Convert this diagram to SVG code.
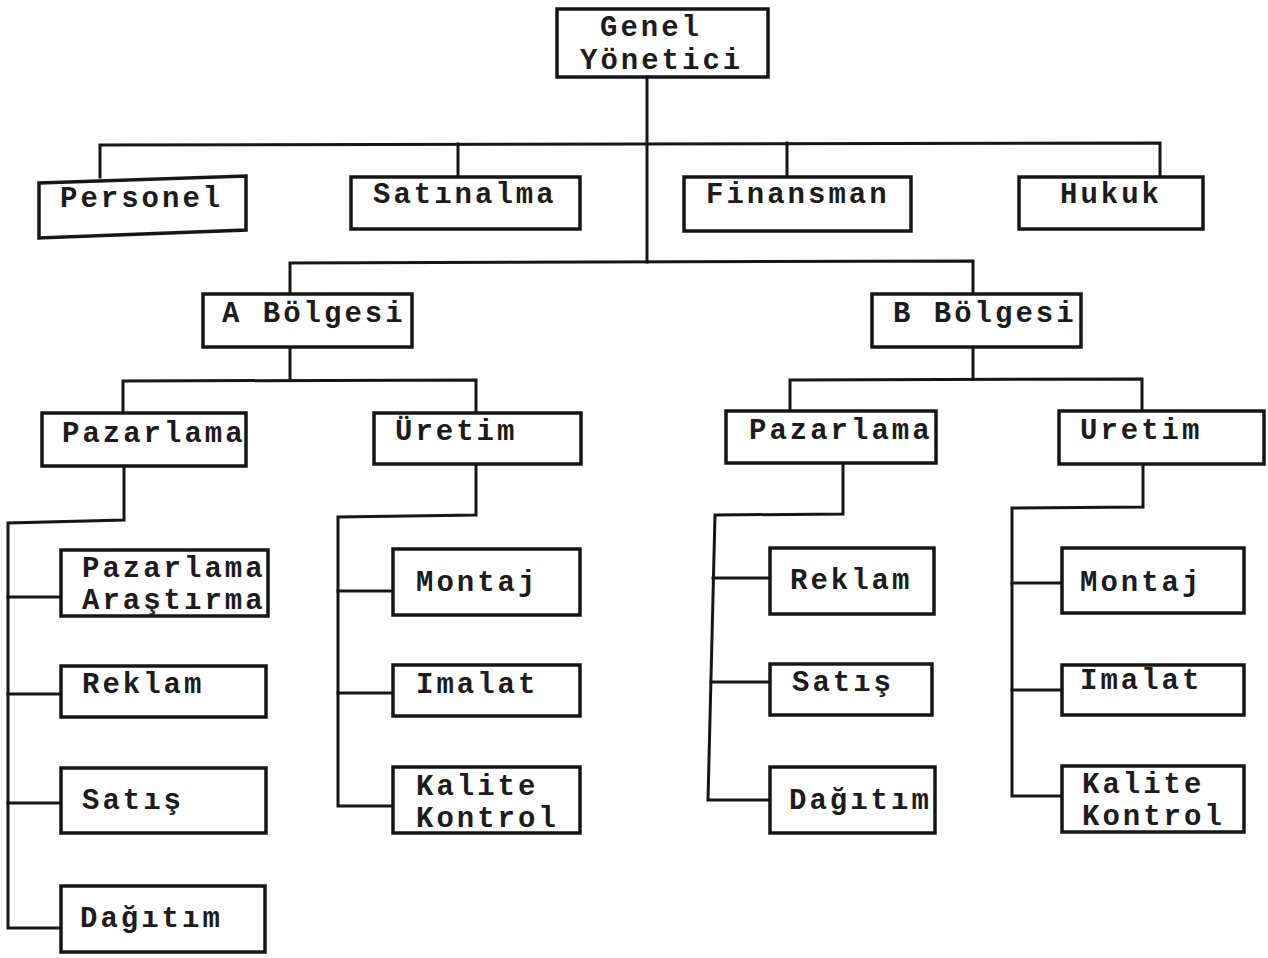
<svg xmlns="http://www.w3.org/2000/svg" width="1268" height="958" viewBox="0 0 1268 958">
  <style>
    .box { fill: none; stroke: #161616; stroke-width: 3.5; stroke-linejoin: miter; }
    .ln { fill: none; stroke: #161616; stroke-width: 3; stroke-linecap: square; }
    text { font-family: "Liberation Mono", "DejaVu Sans Mono", monospace; font-size: 29px; font-weight: bold; fill: #1c1c1c; letter-spacing: 3px; }
  </style>
  <rect width="1268" height="958" fill="#ffffff"/>

  <!-- connectors -->
  <g id="connectors">
    <!-- top level -->
    <path class="ln" d="M647 77 V262"/>
    <path class="ln" d="M100 177 V145 L1160 143 V176"/>
    <path class="ln" d="M458 144 V176"/>
    <path class="ln" d="M787 143 V176"/>
    <!-- regions -->
    <path class="ln" d="M290 293 V263 L973 261 V293"/>
    <!-- A region departments -->
    <path class="ln" d="M290 348 V380"/>
    <path class="ln" d="M123 412 V381 L476 380 V412"/>
    <!-- B region departments -->
    <path class="ln" d="M973 348 V379"/>
    <path class="ln" d="M790 410 V380 L1142 379 V410"/>
    <!-- A Pazarlama units -->
    <path class="ln" d="M124 467 V520 L8 523 V928 H60"/>
    <path class="ln" d="M8 597 H60"/>
    <path class="ln" d="M8 694 H60"/>
    <path class="ln" d="M8 803 H60"/>
    <!-- A Üretim units -->
    <path class="ln" d="M476 465 V515 L338 517 V806 H392"/>
    <path class="ln" d="M338 591 H392"/>
    <path class="ln" d="M338 693 H392"/>
    <!-- B Pazarlama units -->
    <path class="ln" d="M843 464 V514 L715 515 L708 800 H769"/>
    <path class="ln" d="M713 578 H769"/>
    <path class="ln" d="M711 682 H769"/>
    <!-- B Uretim units -->
    <path class="ln" d="M1143 465 V507 L1012 508 V796 H1061"/>
    <path class="ln" d="M1012 583 H1061"/>
    <path class="ln" d="M1012 690 H1061"/>
  </g>

  <g id="genel-yonetici">
    <rect class="box" x="557" y="9" width="211" height="68"/>
    <text x="600" y="36">Genel</text>
    <text x="580" y="69">Yönetici</text>
  </g>

  <g id="personel">
    <path class="box" d="M39 183 L246 176 V230 L39 238 Z"/>
    <text x="60" y="207">Personel</text>
  </g>
  <g id="satinalma">
    <rect class="box" x="351" y="177" width="229" height="52"/>
    <text x="373" y="203">Satınalma</text>
  </g>
  <g id="finansman">
    <rect class="box" x="684" y="177" width="227" height="54"/>
    <text x="706" y="203">Finansman</text>
  </g>
  <g id="hukuk">
    <rect class="box" x="1019" y="177" width="184" height="52"/>
    <text x="1060" y="203">Hukuk</text>
  </g>

  <g id="a-bolgesi">
    <rect class="box" x="203" y="294" width="209" height="53"/>
    <text x="222" y="322">A Bölgesi</text>
  </g>
  <g id="b-bolgesi">
    <rect class="box" x="872" y="294" width="209" height="53"/>
    <text x="893" y="322">B Bölgesi</text>
  </g>

  <g id="a-pazarlama">
    <rect class="box" x="42" y="413" width="204" height="53"/>
    <text x="62" y="442">Pazarlama</text>
  </g>
  <g id="a-uretim">
    <rect class="box" x="374" y="413" width="207" height="51"/>
    <text x="395" y="440">Üretim</text>
  </g>
  <g id="b-pazarlama">
    <rect class="box" x="726" y="411" width="210" height="52"/>
    <text x="749" y="439">Pazarlama</text>
  </g>
  <g id="b-uretim">
    <rect class="box" x="1059" y="411" width="205" height="53"/>
    <text x="1080" y="439">Uretim</text>
  </g>

  <!-- A Pazarlama units -->
  <g id="a-pazarlama-arastirma">
    <rect class="box" x="61" y="550" width="207" height="66"/>
    <text x="82" y="577">Pazarlama</text>
    <text x="82" y="609">Araştırma</text>
  </g>
  <g id="a-reklam">
    <rect class="box" x="61" y="666" width="205" height="51"/>
    <text x="82" y="693">Reklam</text>
  </g>
  <g id="a-satis">
    <rect class="box" x="61" y="768" width="205" height="65"/>
    <text x="82" y="809">Satış</text>
  </g>
  <g id="a-dagitim">
    <rect class="box" x="61" y="886" width="204" height="66"/>
    <text x="80" y="927">Dağıtım</text>
  </g>

  <!-- A Üretim units -->
  <g id="a-montaj">
    <rect class="box" x="393" y="549" width="187" height="66"/>
    <text x="416" y="591">Montaj</text>
  </g>
  <g id="a-imalat">
    <rect class="box" x="393" y="665" width="187" height="51"/>
    <text x="416" y="693">Imalat</text>
  </g>
  <g id="a-kalite-kontrol">
    <rect class="box" x="393" y="767" width="187" height="66"/>
    <text x="416" y="795">Kalite</text>
    <text x="416" y="827">Kontrol</text>
  </g>

  <!-- B Pazarlama units -->
  <g id="b-reklam">
    <rect class="box" x="770" y="548" width="164" height="66"/>
    <text x="790" y="589">Reklam</text>
  </g>
  <g id="b-satis">
    <rect class="box" x="770" y="664" width="162" height="51"/>
    <text x="792" y="691">Satış</text>
  </g>
  <g id="b-dagitim">
    <rect class="box" x="770" y="767" width="165" height="66"/>
    <text x="789" y="809">Dağıtım</text>
  </g>

  <!-- B Uretim units -->
  <g id="b-montaj">
    <rect class="box" x="1062" y="548" width="182" height="65"/>
    <text x="1080" y="591">Montaj</text>
  </g>
  <g id="b-imalat">
    <rect class="box" x="1062" y="665" width="182" height="50"/>
    <text x="1080" y="689">Imalat</text>
  </g>
  <g id="b-kalite-kontrol">
    <rect class="box" x="1062" y="766" width="182" height="66"/>
    <text x="1082" y="793">Kalite</text>
    <text x="1082" y="825">Kontrol</text>
  </g>
</svg>
